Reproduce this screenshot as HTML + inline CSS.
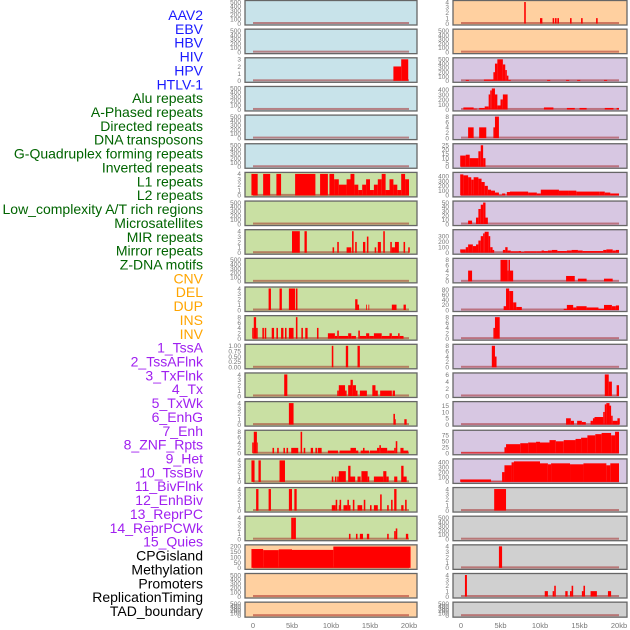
<!DOCTYPE html>
<html><head><meta charset="utf-8"><style>
body{margin:0;background:#fff;width:630px;height:630px;overflow:hidden}
svg{display:block}
text{font-family:"Liberation Sans",sans-serif}
</style></head><body>
<svg id="chart" width="630" height="630" viewBox="0 0 630 630"></svg>
<script>
const labels=["AAV2","EBV","HBV","HIV","HPV","HTLV-1","Alu repeats","A-Phased repeats","Directed repeats","DNA transposons","G-Quadruplex forming repeats","Inverted repeats","L1 repeats","L2 repeats","Low_complexity A/T rich regions","Microsatellites","MIR repeats","Mirror repeats","Z-DNA motifs","CNV","DEL","DUP","INS","INV","1_TssA","2_TssAFlnk","3_TxFlnk","4_Tx","5_TxWk","6_EnhG","7_Enh","8_ZNF_Rpts","9_Het","10_TssBiv","11_BivFlnk","12_EnhBiv","13_ReprPC","14_ReprPCWk","15_Quies","CPGisland","Methylation","Promoters","ReplicationTiming","TAD_boundary"];
const labelGroups=[6,13,5,15,5];
const groupColors=["#1a1aff","#006400","#ffa500","#a020f0","#000000"];
const xTicks=[0,5,10,15,20];
const xTickLabels=["0","5kb","10kb","15kb","20kb"];
const leftBg=["#c8e3ea","#c8e3ea","#c8e3ea","#c8e3ea","#c8e3ea","#c8e3ea","#c9e0a3","#c9e0a3","#c9e0a3","#c9e0a3","#c9e0a3","#c9e0a3","#c9e0a3","#c9e0a3","#c9e0a3","#c9e0a3","#c9e0a3","#c9e0a3","#c9e0a3","#ffd0a0","#ffd0a0","#ffd0a0"];
const rightBg=["#ffd0a0","#ffd0a0","#d7c7e2","#d7c7e2","#d7c7e2","#d7c7e2","#d7c7e2","#d7c7e2","#d7c7e2","#d7c7e2","#d7c7e2","#d7c7e2","#d7c7e2","#d7c7e2","#d7c7e2","#d7c7e2","#d7c7e2","#d0d0d0","#d0d0d0","#d0d0d0","#d0d0d0","#d0d0d0"];
const E=[0,100,200,300,400,500];
const leftTicks=[E,E,[0,1,2,3],E,E,E,[0,1,2,3,4],E,[0,1,2,3,4],E,[0,1,2,3,4],[0,2,4,6,8],[0,0.25,0.5,0.75,1],[0,1,2,3,4],[0,1,2,3,4],[0,2,4,6,8],[0,1,2,3,4],[0,1,2,3,4],[0,1,2,3,4],[0,50,100,150,200],E,E];
const rightTicks=[[0,1,2,3,4],E,E,[0,100,200,300,400],[0,2,4,6,8],[0,5,10,15,20,25],[0,100,200,300,400],[0,10,20,30,40,50],[0,100,200,300],[0,2,4,6,8],[0,20,40,60,80],[0,2,4,6,8],[0,2,4,6,8],[0,2,4,6],[0,5,10,15],[0,25,50,75],[0,100,200,300,400],[0,1,2,3,4],E,[0,1,2,3,4],[0,1,2,3,4],E];
const leftMax=[500,500,3,500,500,500,4,500,4,500,4,8,1,4,4,8,4,4,4,200,500,500];
const rightMax=[4,500,500,430,8,25,450,50,390,8,85,8,8,6,17,90,440,4,500,4,4,500];
const leftData=[[],[],
[[18,19,2],[19,19.9,3]],
[],[],[],
[[-0.2,0.6,4],[1.3,2.2,4],[3,3.6,4],[5.4,8,4],[8.6,9.6,4],[9.8,10.4,4],[10.4,11,3],[11,12,2],[12,12.5,3],[12.5,13,4],[13,13.5,2],[13.5,14,1],[14,14.5,2],[14.5,15,3],[15,15.5,1],[15.5,16,2],[16,16.5,3],[16.5,17,4],[17,17.5,1],[17.5,18,3],[18,18.5,2],[18.5,19,1],[19,19.5,4],[19.5,20,3]],
[],
[[5,6,4],[6.6,6.9,4],[10.2,10.4,1],[10.8,11,2],[12,12.6,1],[12.7,12.9,4],[13.1,13.3,2],[14.1,14.4,2],[14.6,14.8,3],[15.6,15.8,1],[16,16.4,2],[16.7,16.9,4],[17.6,17.8,2],[17.8,18.2,1],[18.2,18.7,2],[19.3,19.5,2],[19.9,20.1,1]],
[],
[[2,2.3,4],[3.4,3.7,4],[4.6,5.4,4],[5.5,5.7,4],[13.1,13.4,2],[13.4,13.6,1],[14.5,14.6,1],[14.8,14.9,1],[17.8,18.4,1],[19.3,19.6,1]],
[[-0.1,0.1,4],[0.1,0.4,8],[0.4,0.6,4],[1.2,1.4,4],[1.5,1.7,4],[2.4,2.7,4],[3,3.2,4],[3.6,3.9,4],[4.1,4.3,4],[4.6,5.2,4],[5.5,5.7,8],[6.2,6.4,4],[6.7,7,4],[8.2,8.4,4],[9.6,10.5,2],[10.5,10.8,1],[10.8,11,3],[11,12.2,1],[12.2,12.6,2],[12.6,13.2,1],[13.5,13.7,3],[13.7,14.5,1],[14.5,14.9,2],[14.9,15.5,1],[15.5,16.5,2],[16.5,17.5,1],[17.5,17.8,2],[17.8,18.6,1],[18.6,18.8,2],[18.8,19.3,1]],
[[10.1,10.3,1],[11.9,12.2,1],[13.4,13.7,1]],
[[4,4.4,4],[10.8,11,1],[11,11.8,2],[11.8,12,1],[12.2,12.5,2],[12.5,12.8,3],[12.8,13.2,2],[13.2,13.4,1],[13.7,14.6,1],[15.3,15.7,2],[15.7,16,1],[16.3,17.8,1],[17.9,18.2,1]],
[[4.6,5.2,4],[18,18.2,2],[18.2,18.3,1],[19.4,19.7,1]],
[[-0.1,0.1,4],[0.1,0.5,8],[0.5,0.6,4],[2.5,2.7,2],[3.1,3.3,2],[3.9,4.1,2],[4.3,4.5,2],[4.9,5.8,2],[6.1,6.3,8],[6.5,6.7,2],[7.4,7.7,2],[8,8.2,2],[8.3,8.8,2],[9.6,10.9,1],[11.1,12.5,1],[12.5,13.2,2],[13.2,13.5,1],[13.8,14.9,1],[14.1,14.3,2],[15,15.9,1],[15.9,16.2,2],[16.2,16.4,3],[16.4,17.2,2],[17.2,17.5,1],[17.5,18.1,1],[18.1,18.3,2],[18.3,18.5,4.5],[18.9,19.3,2],[19.3,19.9,1]],
[[-0.2,0.2,4],[0.7,1,4],[3.4,4.1,4],[10.1,10.3,1],[10.5,10.7,1],[10.8,11,1],[11,11.9,2],[12.2,12.5,3],[12.5,13.1,1],[13.4,13.8,1],[13.9,14.7,2],[14.7,14.9,1],[15.5,16.7,1],[16.7,17.1,2],[17.1,17.4,1],[18.1,18.5,1],[19,19.3,3],[19.3,19.7,1]],
[[0.4,0.7,4],[2,2.3,4],[4.6,5,4],[5.3,5.6,4],[10.1,10.6,1],[10.6,10.8,2],[11,11.1,1],[11.1,11.3,2],[11.6,12.1,1],[12.1,12.3,2],[12.3,12.5,1],[12.8,13,2],[13.4,14,1],[14.2,14.4,2],[15,15.2,1],[15.5,16,1],[16.3,16.5,3],[17.2,17.4,1],[17.7,17.9,2],[18.1,18.4,4],[19,19.3,1],[19.5,19.7,2]],
[[4.9,5.2,4],[5.2,5.5,4],[12.3,12.5,1],[13.2,13.4,1],[13.7,14.1,1],[14.6,14.9,1],[17.2,17.4,1],[18.1,18.3,1.5],[18.3,18.5,2],[19.6,19.9,1]],
[[-0.2,1.3,175],[1.3,3.3,165],[3.3,5,172],[5,10.3,167],[10.3,20.2,198]],
[],[]];
const rightData=[[[8,8.2,4],[10,10.3,1],[11.6,11.8,1],[11.9,12.1,1],[12.2,12.4,1],[13.8,14,1],[15.2,15.4,1],[17.1,17.3,1]],
[],
[[0.6,1,20],[2.9,4.1,30],[4.1,4.3,200],[4.3,4.6,400],[4.6,5.3,500],[5.3,5.6,380],[5.6,5.8,250],[5.8,6,120],[6,6.3,20],[10.9,11.3,20],[13.3,13.7,20],[14.7,15.1,20],[18.1,18.5,20]],
[[0.3,1.6,40],[1.6,2,15],[2.3,3,30],[3,3.5,60],[3.5,3.7,300],[3.7,3.9,380],[3.9,4.3,420],[4.3,4.6,300],[4.6,5,80],[5,5.3,200],[5.3,5.9,300],[10.5,11.7,40],[13.4,14.4,30],[15,15.9,30],[18.2,19.3,30],[19.7,20,30]],
[[0.9,1.6,4],[2.3,3.2,4],[4.1,4.3,4],[4.3,4.8,8]],
[[-0.1,0.6,13],[0.6,1.1,14],[1.1,2.2,10],[2.2,2.5,18],[2.5,2.8,25],[2.8,3.1,10]],
[[-0.1,0.3,440],[0.3,0.9,420],[0.9,1.3,380],[1.3,1.6,330],[1.6,2.2,380],[2.2,2.6,350],[2.6,3,280],[3,3.4,200],[3.4,3.8,120],[3.8,4.3,100],[4.3,4.8,60],[4.8,5.2,10],[5.2,5.6,40],[5.8,6.2,70],[6.2,8.5,80],[8.5,9.6,60],[9.6,10.1,40],[10.1,12.4,120],[12.4,13.6,100],[13.6,14.6,100],[14.6,17.5,80],[17.5,18.2,80],[18.2,18.9,60],[18.9,20,40]],
[[0.9,1.4,8],[1.9,2.2,15],[2.2,2.5,35],[2.5,2.8,45],[2.8,3.1,50],[3.1,3.4,15]],
[[-0.1,0.6,60],[0.6,0.9,100],[0.9,1.5,150],[1.5,1.9,120],[1.9,2.2,150],[2.2,2.5,220],[2.5,2.8,300],[2.8,3,350],[3,3.5,380],[3.5,3.7,300],[3.7,4,100],[4,4.2,50],[5.3,5.6,50],[5.6,5.9,100],[5.9,6.3,40],[6.3,7.3,25],[7.3,7.6,30],[7.6,8,15],[8,8.8,25],[8.8,9.6,25],[9.6,10.2,25],[10.2,10.5,40],[10.5,11,30],[11,11.5,40],[11.5,12.2,50],[12.2,13.4,30],[13.4,14,40],[14,14.8,50],[14.8,15.4,40],[15.4,18,30],[18,18.4,50],[18.4,19.2,60],[19.2,19.6,40],[19.6,20,50]],
[[0.9,1.4,4],[5,5.9,8],[5.9,6,4],[6,6.2,8],[6.2,6.6,4],[13.3,14.4,2],[14.8,15.9,1],[18.1,19.2,1]],
[[5.4,5.7,15],[5.7,6.1,85],[6.1,6.6,75],[6.6,7,30],[7,7.7,12],[13,13.4,5],[13.4,14.2,20],[14.2,14.6,10],[14.6,15.9,15],[15.9,17.4,10],[17.4,18.1,5],[18.1,19.1,20],[19.1,19.6,15],[19.6,20,18]],
[[4.1,4.3,4],[4.3,4.9,8]],
[[3.9,4.3,8],[4.3,4.5,4]],
[[18.2,18.7,6],[18.7,19.1,4],[19.7,20,3]],
[[13.3,13.9,5],[13.9,14.3,3],[14.7,15.3,3],[15.3,15.8,2],[16.4,16.7,3],[16.7,16.9,5],[16.9,18,6],[18,18.2,10],[18.2,18.4,16],[18.4,18.8,17],[18.8,19,15],[19,19.2,7],[19.2,19.8,3],[19.8,20.1,5]],
[[0,5.5,3],[5.5,5.7,25],[5.7,7.5,38],[7.5,8.5,42],[8.5,9.5,45],[9.5,10,48],[10,11.2,45],[11.2,12,55],[12,13,50],[13,14.5,55],[14.5,15.2,60],[15.2,16,65],[16,17,75],[17,17.8,80],[17.8,19,85],[19,19.5,75],[19.5,20,90]],
[[-0.1,3.8,50],[3.8,5.2,8],[5.2,5.5,200],[5.5,6.4,340],[6.4,6.7,400],[6.7,10,420],[10,11,380],[11,11.4,360],[11.4,13.8,380],[13.8,15.5,360],[15.5,18.4,380],[18.4,18.9,340],[18.9,20,380]],
[[4.2,5.7,4]],
[],
[[4.8,5.2,4]],
[[0.5,0.75,4],[10.6,11,1],[11.6,11.8,1],[11.8,12,2],[13.2,13.5,1],[13.8,14,1],[14,14.2,2],[15.3,15.5,1],[15.5,15.7,2],[16.4,17.2,1],[18.6,19,1]],
[]];

const NS="http://www.w3.org/2000/svg";
const svg=document.getElementById('chart');
function mk(tag,attrs,parent){const e=document.createElementNS(NS,tag);for(const k in attrs)e.setAttribute(k,attrs[k]);(parent||svg).appendChild(e);return e;}
function rowTop(i){return 0.5+i*28.65;}
function rowH(i){return i===21?15:24.5;}
const cols=[{x:245,w:172,x0:253,x1:409,bg:leftBg,ticks:leftTicks,max:leftMax,data:leftData,name:'left'},
            {x:453,w:174,x0:461,x1:619,bg:rightBg,ticks:rightTicks,max:rightMax,data:rightData,name:'right'}];
// labels
let gi=0,cnt=0;
labels.forEach((l,i)=>{
  while(cnt>=labelGroups[gi]){cnt=0;gi++;}
  cnt++;
  const t=mk('text',{x:203,y:15+i*13.86+5,'text-anchor':'end','font-size':14,fill:groupColors[gi]});
  
  
  t.textContent=l;
});
cols.forEach(c=>{
  const xs=v=>c.x0+(v/20)*(c.x1-c.x0);
  for(let i=0;i<22;i++){
    const top=rowTop(i),h=rowH(i);
    const g=mk('g',{});
    
    
    mk('rect',{x:c.x,y:top,width:c.w,height:h,fill:c.bg[i]},g);
    const ymax=c.max[i];
    const yb=top+h-1.5, yt=top+1.5;
    const ys=v=>yb-(v/ymax)*(yb-yt);
    mk('rect',{x:xs(0),y:yb-1.5,width:xs(20)-xs(0),height:2,fill:'rgba(160,30,30,0.5)'},g);
    c.data[i].forEach(d=>{
      const r=mk('rect',{x:xs(d[0]),y:ys(Math.min(d[2],ymax)),width:Math.max(0.8,xs(d[1])-xs(d[0])),height:yb-ys(Math.min(d[2],ymax)),fill:'#ff0000'},g);
      
      
    });
    mk('rect',{x:c.x,y:top,width:c.w,height:h,fill:'none',stroke:'#666','stroke-width':1.3},g);
    c.ticks[i].forEach(tv=>{
      const t=mk('text',{x:c.x-4,y:ys(tv)+2.3,'text-anchor':'end','font-size':6.5,fill:'#777'},g);
      
      
      t.textContent=(ymax===1)?tv.toFixed(2):String(tv);
    });
  }
  xTicks.forEach((v,k)=>{
    const t=mk('text',{x:xs(v),y:628,'text-anchor':'middle','font-size':7.5,fill:'#777'});
    
    
    t.textContent=xTickLabels[k];
  });
});
</script>
</body></html>
